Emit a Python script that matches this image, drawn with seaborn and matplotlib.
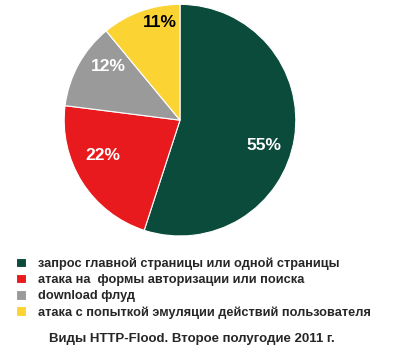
import numpy as np
import matplotlib
matplotlib.use("Agg")
import matplotlib.pyplot as plt
import seaborn as sns

categories = ["запрос главной страницы или одной страницы",
    "атака на  формы авторизации или поиска",
    "download флуд",
    "атака с попыткой эмуляции действий пользователя"]
shares = [55, 22, 12, 11]
colors = ["#0b4b3b", "#e81a1d", "#9a9a9a", "#fbd433"]
pct_colors = ["white", "white", "white", "black"]
title = "Виды HTTP-Flood. Второе полугодие 2011 г."

sns.set_theme(style="white")
plt.rcParams["font.family"] = ["Liberation Sans", "DejaVu Sans"]

fg = plt.figure(figsize=(4, 3.55), dpi=100)
fg.patch.set_facecolor("white")
#pie area
ax = fg.add_axes([0.1575, 0.332, 0.585, 0.659])
wedges, texts, autotexts = ax.pie(shares,
    colors=sns.color_palette(colors),
    startangle=90, counterclock=False,
    autopct="%d%%", pctdistance=0.76,
    wedgeprops=dict(edgecolor="white", linewidth=0.8),
    textprops=dict(fontsize=12.5, fontweight="bold"))
#labels sit a bit clockwise from the slice middle, like excel does
dist = [0.76, 0.73, 0.77, 0.86]
for w, tx, c, d in zip(wedges, autotexts, pct_colors, dist):
    tx.set_color(c)
    a = np.deg2rad((w.theta1+w.theta2)/2-8)
    tx.set_position((d*np.cos(a), d*np.sin(a)))
ax.set_xlim(-1.01, 1.01)
ax.set_ylim(-1.01, 1.01)
ax.set_aspect("equal")

fg.legend(wedges, categories,
    loc="upper left", bbox_to_anchor=(0.012, 1-246/355),
    frameon=False, handlelength=0.78, handleheight=0.78,
    handletextpad=0.92, labelspacing=0.3,
    prop=dict(size=9.2, weight="bold"))

fg.text(0.479, 1-339/355, title, ha="center", va="center",
    fontsize=9.5, fontweight="bold",
    family=["Liberation Sans Narrow", "Liberation Sans", "DejaVu Sans"])

fg.savefig("out.png", dpi=100)
